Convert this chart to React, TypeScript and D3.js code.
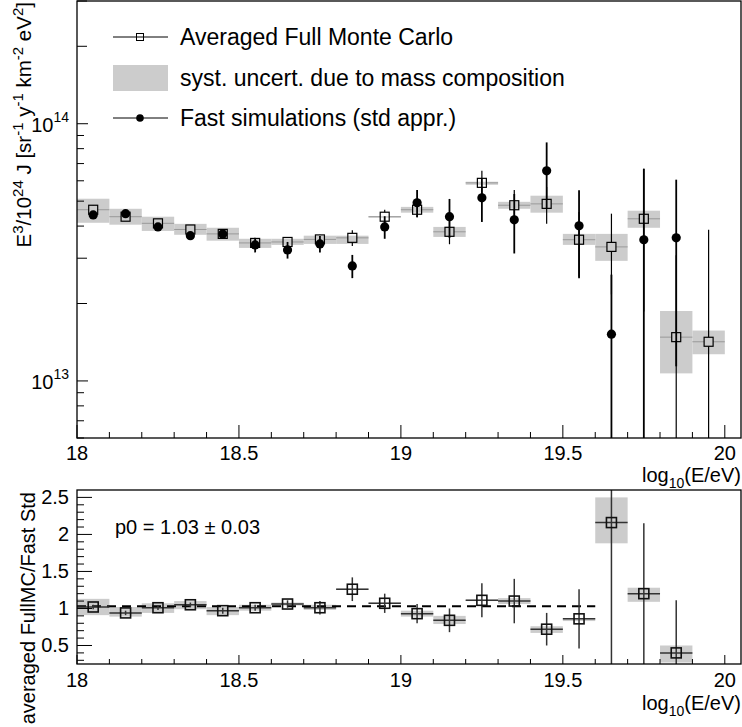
import React from 'react';
import * as d3 from 'd3';

// energy bins (log10(E/eV) bin centres, width 0.1)
const binCenters = [18.05, 18.15, 18.25, 18.35, 18.45, 18.55, 18.65, 18.75, 18.85, 18.95,
  19.05, 19.15, 19.25, 19.35, 19.45, 19.55, 19.65, 19.75, 19.85, 19.95];

// averaged full Monte Carlo, E^3 J
const fullMC = [4.63e13, 4.35e13, 4.10e13, 3.88e13, 3.73e13, 3.44e13, 3.47e13, 3.55e13, 3.60e13, 4.35e13,
  4.63e13, 3.80e13, 5.89e13, 4.82e13, 4.88e13, 3.54e13, 3.32e13, 4.27e13, 1.48e13, 1.42e13];
const fullMCErr = [0.2e13, 0.15e13, 0.15e13, 0.15e13, 0.15e13, 0.12e13, 0.12e13, 0.15e13, 0.25e13, 0.28e13,
  0.3e13, 0.4e13, 0.67e13, 0.7e13, 0.8e13, 1.0e13, 1.15e13, 2.41e13, 1.6e13, 2.45e13];
// syst. uncertainty band (mass composition)
const systHigh = [5.11e13, 4.67e13, 4.35e13, 4.08e13, 3.94e13, 3.57e13, 3.57e13, 3.67e13, 3.67e13, 4.37e13,
  4.75e13, 3.97e13, 5.95e13, 4.97e13, 5.25e13, 3.73e13, 3.73e13, 4.59e13, 1.87e13, 1.57e13];
const systLow = [4.12e13, 4.05e13, 3.83e13, 3.70e13, 3.51e13, 3.29e13, 3.38e13, 3.41e13, 3.41e13, 4.33e13,
  4.51e13, 3.63e13, 5.79e13, 4.67e13, 4.51e13, 3.38e13, 2.93e13, 3.94e13, 1.07e13, 1.27e13];

// fast simulations (std appr.)
const fastCenters = binCenters.slice(0, 19);
const fastSim = [4.42e13, 4.47e13, 3.97e13, 3.67e13, 3.73e13, 3.38e13, 3.23e13, 3.41e13, 2.80e13, 3.97e13,
  4.93e13, 4.35e13, 5.15e13, 4.23e13, 6.56e13, 4.01e13, 1.52e13, 3.54e13, 3.60e13];
const fastErr = [0.1e13, 0.1e13, 0.12e13, 0.12e13, 0.15e13, 0.22e13, 0.24e13, 0.25e13, 0.29e13, 0.4e13,
  0.6e13, 0.75e13, 1.0e13, 1.1e13, 1.9e13, 1.5e13, 1.07e13, 3.14e13, 2.46e13];

// ratio averaged FullMC / Fast Std
const ratioCenters = binCenters.slice(0, 19);
const ratio = [1.02, 0.94, 1.01, 1.05, 0.97, 1.01, 1.06, 1.01, 1.26, 1.07,
  0.93, 0.84, 1.11, 1.10, 0.72, 0.86, 2.16, 1.20, 0.40];
const ratioErr = [0.03, 0.03, 0.03, 0.03, 0.04, 0.04, 0.05, 0.09, 0.16, 0.13,
  0.13, 0.16, 0.23, 0.3, 0.22, 0.4, 2.0, 0.95, 0.71];
const ratioSystHigh = [1.13, 1.02, 1.07, 1.10, 1.02, 1.05, 1.08, 1.05, 1.27, 1.08,
  0.97, 0.90, 1.12, 1.14, 0.76, 0.87, 2.5, 1.28, 0.50];
const ratioSystLow = [0.91, 0.89, 0.94, 0.99, 0.91, 0.97, 1.04, 0.98, 1.25, 1.06,
  0.89, 0.79, 1.10, 1.06, 0.67, 0.83, 1.88, 1.09, 0.27];

const p0 = 1.03;
const p0Range = [18.0, 19.6];

const xMajor = [18, 18.5, 19, 19.5, 20];
const xMajorLabels = ['18', '18.5', '19', '19.5', '20'];
const ratioMajor = [0.5, 1, 1.5, 2, 2.5];
const ratioMajorLabels = ['0.5', '1', '1.5', '2', '2.5'];

const FONT = 'Liberation Sans, Arial, Helvetica, sans-serif';
const BAND = '#cccccc';

const X0 = 77, X1 = 741;
const T0 = 1, T1 = 438;
const B0 = 490, B1 = 664;

const x = d3.scaleLinear().domain([18, 20.05]).range([X0, X1]);
const yTop = d3.scaleLog().domain([6e12, 3e14]).range([T1, T0]);
const yBot = d3.scaleLinear().domain([0.25, 2.6]).range([B1, B0]);

const xMinor = d3.range(181, 201).map(d => d / 10).filter(d => !xMajor.some(m => Math.abs(m - d) < 1e-6));
const logTicks: { v: number; m: number }[] = [];
[12, 13, 14].forEach(e => d3.range(1, 10).forEach(m => {
  const v = m * Math.pow(10, e);
  if (v >= 6e12 && v <= 3e14) logTicks.push({ v, m });
}));
const ratioMinor = d3.range(3, 26).map(d => d / 10).filter(d => !ratioMajor.some(m => Math.abs(m - d) < 1e-6));

function vbar(xp: number, yA: number, yB: number, cy: number, gap: number, sw: number, color: string, key: string) {
  const top = Math.min(yA, yB), bot = Math.max(yA, yB);
  const segs = [] as JSX.Element[];
  if (top < cy - gap) segs.push(<line key={key + 'a'} x1={xp} x2={xp} y1={top} y2={cy - gap} stroke={color} strokeWidth={sw} />);
  if (bot > cy + gap) segs.push(<line key={key + 'b'} x1={xp} x2={xp} y1={cy + gap} y2={bot} stroke={color} strokeWidth={sw} />);
  return segs;
}

function XAxis({ y0, major, minor, labelY, titleY }: { y0: number; major: number; minor: number; labelY: number; titleY: number }) {
  return (
    <g>
      {xMajor.map(v => <line key={'M' + v} x1={x(v)} x2={x(v)} y1={y0} y2={y0 - major} stroke="#000" />)}
      {xMinor.map(v => <line key={'m' + v} x1={x(v)} x2={x(v)} y1={y0} y2={y0 - minor} stroke="#000" />)}
      {xMajor.map((v, i) => (
        <text key={'L' + v} x={x(v)} y={labelY} textAnchor="middle" fontSize={20}>{xMajorLabels[i]}</text>
      ))}
      <text x={X1} y={titleY} textAnchor="end" fontSize={20}>
        log<tspan fontSize={14} dy={6}>10</tspan><tspan dy={-6}>(E/eV)</tspan>
      </text>
    </g>
  );
}

export default function App() {
  const half = 0.05;
  return (
    <svg width={742} height={727} style={{ position: 'absolute', left: 0, top: 0, background: '#fff' }}
      fontFamily={FONT}>
      <defs>
        <clipPath id="clipTop"><rect x={X0} y={T0} width={X1 - X0} height={T1 - T0} /></clipPath>
        <clipPath id="clipBot"><rect x={X0} y={B0} width={X1 - X0} height={B1 - B0} /></clipPath>
      </defs>
      <rect width={742} height={727} fill="#fff" />

      {/* ---------- top panel ---------- */}
      <g clipPath="url(#clipTop)">
        {binCenters.map((c, i) => (
          <rect key={'s' + i} x={x(c - half)} width={x(c + half) - x(c - half)}
            y={yTop(systHigh[i])} height={Math.max(1.5, yTop(systLow[i]) - yTop(systHigh[i]))} fill={BAND} />
        ))}
        {binCenters.map((c, i) => {
          const cy = yTop(fullMC[i]);
          const lo = Math.max(fullMC[i] - fullMCErr[i], 1e11);
          return (
            <g key={'f' + i}>
              <line x1={x(c - half)} x2={x(c) - 4.5} y1={cy} y2={cy} stroke="#999" strokeWidth={1} />
              <line x1={x(c) + 4.5} x2={x(c + half)} y1={cy} y2={cy} stroke="#999" strokeWidth={1} />
              {vbar(x(c), yTop(fullMC[i] + fullMCErr[i]), yTop(lo), cy, 4.5, 1.2, '#000', 'v' + i)}
              <rect x={x(c) - 4.5} y={cy - 4.5} width={9} height={9} fill="none" stroke="#000" strokeWidth={1.2} />
            </g>
          );
        })}
        {fastCenters.map((c, i) => {
          const cy = yTop(fastSim[i]);
          const lo = Math.max(fastSim[i] - fastErr[i], 1e11);
          return (
            <g key={'c' + i}>
              <line x1={x(c)} x2={x(c)} y1={yTop(fastSim[i] + fastErr[i])} y2={yTop(lo)} stroke="#000" strokeWidth={1.8} />
              <circle cx={x(c)} cy={cy} r={4.6} fill="#000" />
            </g>
          );
        })}
      </g>
      <rect x={X0} y={T0} width={X1 - X0} height={T1 - T0} fill="none" stroke="#000" strokeWidth={1.3} />

      {/* y axis (log) */}
      {logTicks.map(t => (
        <line key={'lt' + t.v} x1={X0} x2={X0 + (t.m === 1 ? 11 : (t.m <= 3 ? 10 : 7))} y1={yTop(t.v)} y2={yTop(t.v)} stroke="#000" />
      ))}
      {[1e13, 1e14].map((v, i) => (
        <text key={'yl' + v} x={69} y={yTop(v) + 8} textAnchor="end" fontSize={20}>
          10<tspan fontSize={14} dy={-10}>{i === 0 ? '13' : '14'}</tspan>
        </text>
      ))}
      <text transform="translate(31,2) rotate(-90)" textAnchor="end" fontSize={20.5}>
        E<tspan fontSize={15} dy={-8}>3</tspan><tspan dy={8}>/10</tspan><tspan fontSize={15} dy={-8}>24</tspan>
        <tspan dy={8}> J [sr</tspan><tspan fontSize={15} dy={-8}>-1</tspan><tspan dy={8}> y</tspan>
        <tspan fontSize={15} dy={-8}>-1</tspan><tspan dy={8}> km</tspan><tspan fontSize={15} dy={-8}>-2</tspan>
        <tspan dy={8}> eV</tspan><tspan fontSize={15} dy={-8}>2</tspan><tspan dy={8}>]</tspan>
      </text>
      <XAxis y0={T1} major={13} minor={6} labelY={460} titleY={482} />

      {/* legend */}
      <g>
        <line x1={113} x2={168} y1={37} y2={37} stroke="#000" />
        <rect x={136.5} y={33.5} width={7} height={7} fill="none" stroke="#000" />
        <text x={180} y={45} fontSize={23}>Averaged Full Monte Carlo</text>
        <rect x={113} y={65} width={55} height={26} fill={BAND} />
        <text x={180} y={86} fontSize={23}>syst. uncert. due to mass composition</text>
        <line x1={113} x2={168} y1={118} y2={118} stroke="#000" />
        <circle cx={140} cy={118} r={3.8} fill="#000" />
        <text x={180} y={126} fontSize={23}>Fast simulations (std appr.)</text>
      </g>

      {/* ---------- bottom panel ---------- */}
      <g clipPath="url(#clipBot)">
        {ratioCenters.map((c, i) => (
          <rect key={'rs' + i} x={x(c - half)} width={x(c + half) - x(c - half)}
            y={yBot(ratioSystHigh[i])} height={yBot(ratioSystLow[i]) - yBot(ratioSystHigh[i])} fill={BAND} />
        ))}
        <line x1={x(p0Range[0])} x2={x(p0Range[1])} y1={yBot(p0)} y2={yBot(p0)} stroke="#000" strokeWidth={2.2} strokeDasharray="9,6" />
        {ratioCenters.map((c, i) => {
          const cy = yBot(ratio[i]);
          return (
            <g key={'r' + i}>
              <line x1={x(c - half)} x2={x(c + half)} y1={cy} y2={cy} stroke="#333" strokeWidth={1.5} />
              <line x1={x(c)} x2={x(c)} y1={yBot(ratio[i] + ratioErr[i])} y2={yBot(ratio[i] - ratioErr[i])} stroke="#333" strokeWidth={1.5} />
              <rect x={x(c) - 5} y={cy - 5} width={10} height={10} fill="none" stroke="#111" strokeWidth={1.6} />
            </g>
          );
        })}
      </g>
      <rect x={X0} y={B0} width={X1 - X0} height={B1 - B0} fill="none" stroke="#000" strokeWidth={1.3} />
      {ratioMajor.map(v => <line key={'rM' + v} x1={X0} x2={X0 + 15} y1={yBot(v)} y2={yBot(v)} stroke="#000" />)}
      {ratioMinor.map(v => <line key={'rm' + v} x1={X0} x2={X0 + 7} y1={yBot(v)} y2={yBot(v)} stroke="#000" />)}
      {ratioMajor.map((v, i) => (
        <text key={'rl' + v} x={69} y={yBot(v) + 7} textAnchor="end" fontSize={20}>{ratioMajorLabels[i]}</text>
      ))}
      <text transform="translate(35,492) rotate(-90)" textAnchor="end" fontSize={20}>averaged FullMC/Fast Std</text>
      <text x={115} y={534} fontSize={20}>p0 = {p0.toFixed(2)} ± 0.03</text>
      <XAxis y0={B1} major={9} minor={5} labelY={687} titleY={710} />
    </svg>
  );
}
